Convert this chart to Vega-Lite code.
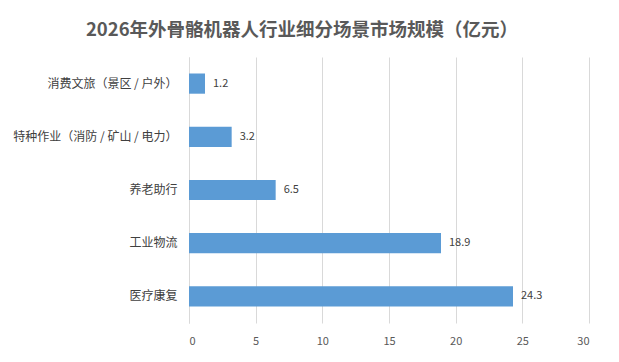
{
  "$schema": "https://vega.github.io/schema/vega-lite/v6.json",
  "autosize": "none",
  "width": 400,
  "height": 266,
  "padding": {"left": 189, "top": 57, "right": 30, "bottom": 39},
  "background": "white",
  "title": {
    "text": "2026年外骨骼机器人行业细分场景市场规模（亿元）",
    "font": "Noto Sans CJK SC",
    "fontSize": 18.5,
    "fontWeight": "bold",
    "color": "#595959",
    "anchor": "middle",
    "dx": -87,
    "offset": 18
  },
  "data": {
    "values": [
      {"category": "消费文旅（景区 / 户外）", "value": 1.2},
      {"category": "特种作业（消防 / 矿山 / 电力）", "value": 3.2},
      {"category": "养老助行", "value": 6.5},
      {"category": "工业物流", "value": 18.9},
      {"category": "医疗康复", "value": 24.3}
    ]
  },
  "encoding": {
    "y": {
      "field": "category",
      "type": "nominal",
      "sort": null,
      "title": null,
      "scale": {"paddingInner": 0.62, "paddingOuter": 0.31},
      "axis": {
        "labelFont": "Noto Sans CJK SC",
        "labelFontSize": 12,
        "labelColor": "#404040",
        "ticks": false,
        "labelPadding": 12,
        "domainColor": "#D9D9D9",
        "labelLimit": 200
      }
    },
    "x": {
      "field": "value",
      "type": "quantitative",
      "title": null,
      "scale": {"domain": [0, 30], "nice": false},
      "axis": {
        "values": [0, 5, 10, 15, 20, 25, 30],
        "labelFont": "Noto Sans CJK SC",
        "labelFontSize": 11,
        "labelColor": "#595959",
        "grid": true,
        "gridColor": "#D9D9D9",
        "domain": false,
        "ticks": false,
        "labelPadding": 12
      }
    }
  },
  "layer": [
    {"mark": {"type": "bar", "color": "#5B9BD5"}},
    {
      "mark": {"type": "text", "align": "left", "dx": 8, "font": "Noto Sans CJK SC", "fontSize": 11, "color": "#404040"},
      "encoding": {"text": {"field": "value", "type": "quantitative", "format": ".1f"}}
    }
  ],
  "config": {"view": {"stroke": null}}
}
